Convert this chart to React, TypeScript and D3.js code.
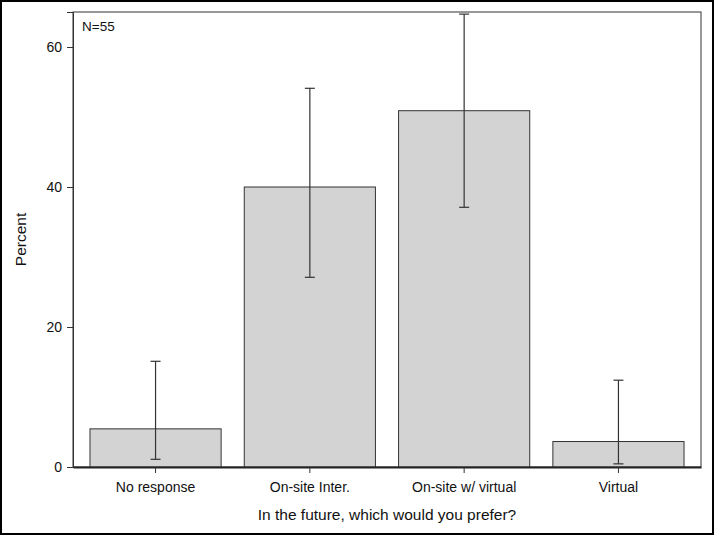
import React, { useEffect, useRef } from "react";
import * as d3 from "d3";

const categories = ["No response", "On-site Inter.", "On-site w/ virtual", "Virtual"];
const percent = [5.45, 40.0, 50.9, 3.64];
const lower = [1.1, 27.1, 37.1, 0.45];
const upper = [15.1, 54.1, 64.7, 12.4];
const yTicks = [0, 20, 40, 60];

const width = 714;
const height = 535;
const margin = { top: 12, right: 13, bottom: 68, left: 73 };

export default function App() {
  const ref = useRef<SVGSVGElement>(null);

  useEffect(() => {
    const svg = d3.select(ref.current);
    svg.selectAll("*").remove();
    const font = "'Liberation Sans', Arial, sans-serif";

    const x = d3.scaleBand<string>()
      .domain(categories)
      .range([margin.left, width - margin.right])
      .paddingInner(0.15)
      .paddingOuter(0.11);
    const y = d3.scaleLinear().domain([0, 65]).range([height - margin.bottom, margin.top]);

    // outer border
    svg.append("rect")
      .attr("x", 1).attr("y", 1)
      .attr("width", width - 2).attr("height", height - 2)
      .attr("fill", "white").attr("stroke", "black").attr("stroke-width", 2);

    // plot frame
    svg.append("rect")
      .attr("x", margin.left).attr("y", margin.top)
      .attr("width", width - margin.left - margin.right)
      .attr("height", height - margin.top - margin.bottom)
      .attr("fill", "white").attr("stroke", "#333").attr("stroke-width", 1);

    const g = svg.append("g");

    g.selectAll("rect.bar")
      .data(categories)
      .enter()
      .append("rect")
      .attr("class", "bar")
      .attr("x", (d) => x(d)!)
      .attr("width", x.bandwidth())
      .attr("y", (d, i) => y(percent[i]))
      .attr("height", (d, i) => y(0) - y(percent[i]))
      .attr("fill", "#d3d3d3")
      .attr("stroke", "#333")
      .attr("stroke-width", 1);

    // error bars
    const cap = 5;
    const eb = g.selectAll("g.err").data(categories).enter().append("g")
      .attr("stroke", "#333").attr("stroke-width", 1.2);
    eb.append("line")
      .attr("x1", (d) => x(d)! + x.bandwidth() / 2)
      .attr("x2", (d) => x(d)! + x.bandwidth() / 2)
      .attr("y1", (d, i) => y(lower[i]))
      .attr("y2", (d, i) => y(upper[i]));
    eb.append("line")
      .attr("x1", (d) => x(d)! + x.bandwidth() / 2 - cap)
      .attr("x2", (d) => x(d)! + x.bandwidth() / 2 + cap)
      .attr("y1", (d, i) => y(lower[i]))
      .attr("y2", (d, i) => y(lower[i]));
    eb.append("line")
      .attr("x1", (d) => x(d)! + x.bandwidth() / 2 - cap)
      .attr("x2", (d) => x(d)! + x.bandwidth() / 2 + cap)
      .attr("y1", (d, i) => y(upper[i]))
      .attr("y2", (d, i) => y(upper[i]));

    // y axis
    const ya = svg.append("g")
      .attr("transform", `translate(${margin.left},0)`)
      .call(d3.axisLeft(y).tickValues(yTicks).tickSize(6).tickPadding(5));
    ya.select(".domain").attr("stroke", "#333");
    ya.selectAll("line").attr("stroke", "#333");
    ya.selectAll("text").attr("font-family", font).attr("font-size", 14).attr("fill", "#111");

    // x axis
    const xa = svg.append("g")
      .attr("transform", `translate(0,${height - margin.bottom})`)
      .call(d3.axisBottom(x).tickSize(6).tickPadding(9).tickSizeOuter(0));
    xa.select(".domain").attr("stroke", "#222").attr("stroke-width", 2);
    xa.selectAll("line").attr("stroke", "#333");
    xa.selectAll("text").attr("font-family", font).attr("font-size", 14).attr("fill", "#111");

    svg.append("text")
      .attr("x", (margin.left + width - margin.right) / 2)
      .attr("y", 520)
      .attr("text-anchor", "middle")
      .attr("font-family", font).attr("font-size", 15.5).attr("fill", "#111")
      .text("In the future, which would you prefer?");

    svg.append("text")
      .attr("transform", `translate(26,${(margin.top + height - margin.bottom) / 2}) rotate(-90)`)
      .attr("text-anchor", "middle")
      .attr("font-family", font).attr("font-size", 15.5).attr("fill", "#111")
      .text("Percent");

    svg.append("text")
      .attr("x", 82).attr("y", 31)
      .attr("font-family", font).attr("font-size", 13.5).attr("fill", "#111")
      .text("N=55");
  }, []);

  return <svg ref={ref} width={width} height={height} style={{ display: "block", position: "absolute", left: 0, top: 0 }} />;
}
